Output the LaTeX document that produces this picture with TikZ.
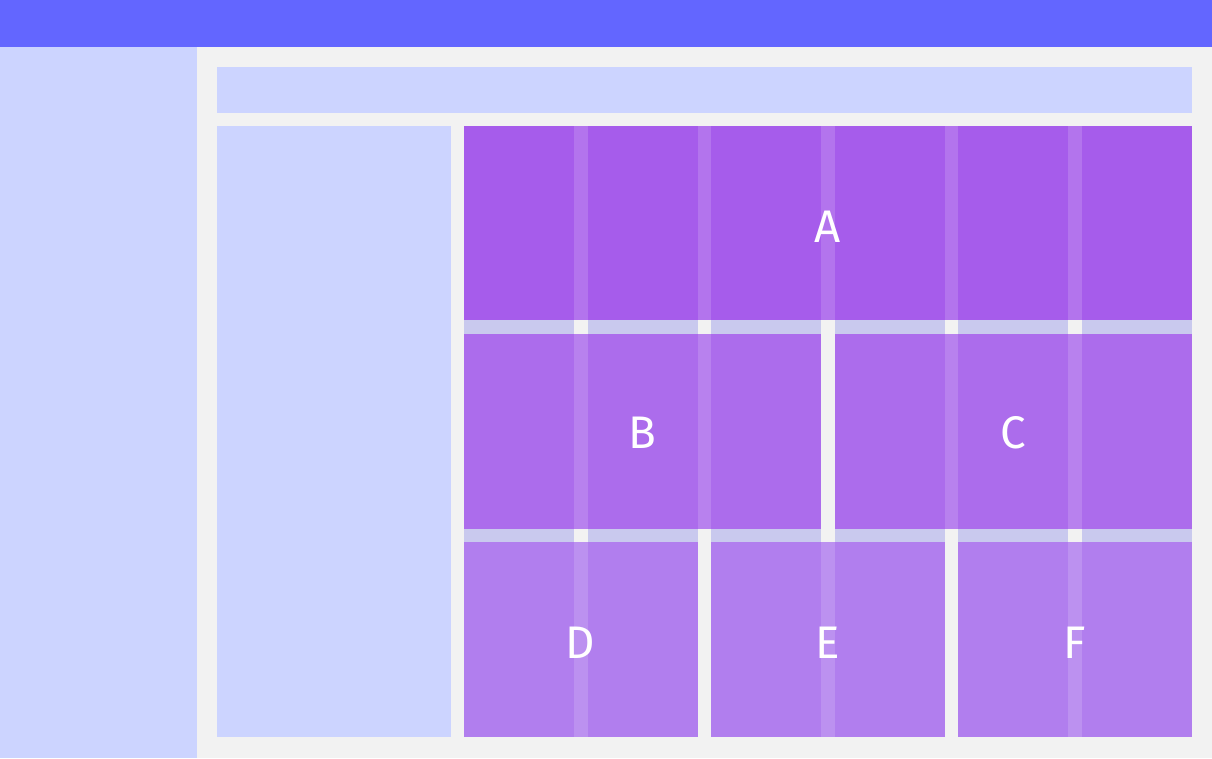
\documentclass[tikz,border=0pt]{standalone}
\usepackage{fontspec}
\setsansfont{Fira Sans}
\definecolor{topbar}{RGB}{99,102,255}
\definecolor{sidefill}{RGB}{204,212,255}
\definecolor{pagebg}{RGB}{242,242,242}
\definecolor{rowgap}{RGB}{201,201,238}
\definecolor{areaA}{RGB}{166,92,235}
\definecolor{areaB}{RGB}{172,108,236}
\definecolor{areaD}{RGB}{177,126,238}
\begin{document}
\begin{tikzpicture}[x=0.02cm, y=-0.02cm,
  cellname/.style={text=white, inner sep=0pt, font=\sffamily\fontsize{26}{26}\selectfont},
  gutter/.style={fill=white, fill opacity=0.15}]
  \useasboundingbox (0,0) rectangle (1212,758);
  % page frame
  \fill[pagebg] (0,0) rectangle (1212,758);
  \fill[topbar] (0,0) rectangle (1212,47);
  \fill[sidefill] (0,47) rectangle (197,758);
  \fill[sidefill] (217,67) rectangle (1191.5,113);
  \fill[sidefill] (217,126) rectangle (451,736.5);
  % row gaps, only on the column tracks
  \foreach \c in {0,...,5} {
    \fill[rowgap] ({464+\c*123.5},320) rectangle ++(110,13.5);
    \fill[rowgap] ({464+\c*123.5},528.5) rectangle ++(110,13);
  }
  % grid areas
  \fill[areaA] (464,126) rectangle (1191.5,320);
  \fill[areaB] (464,333.5) rectangle (821,528.5);
  \fill[areaB] (834.5,333.5) rectangle (1191.5,528.5);
  \fill[areaD] (464,541.5) rectangle (697.5,736.5);
  \fill[areaD] (711,541.5) rectangle (944.5,736.5);
  \fill[areaD] (958,541.5) rectangle (1191.5,736.5);
  % column gutters seen through the areas
  \foreach \g in {1,...,5}
    \fill[gutter] ({464+\g*123.5-13.5},126) rectangle ++(13.5,194);
  \foreach \g in {1,2,4,5}
    \fill[gutter] ({464+\g*123.5-13.5},333.5) rectangle ++(13.5,195);
  \foreach \g in {1,3,5}
    \fill[gutter] ({464+\g*123.5-13.5},541.5) rectangle ++(13.5,195);
  % area names
  \node[cellname] (a) at (827.5,227) {A};
  \node[cellname] (b) at (642.5,433) {B};
  \node[cellname] (c) at (1013,433) {C};
  \node[cellname] (d) at (580.5,643) {D};
  \node[cellname] (e) at (827.5,643) {E};
  \node[cellname] (f) at (1074.5,643) {F};
\end{tikzpicture}
\end{document}
